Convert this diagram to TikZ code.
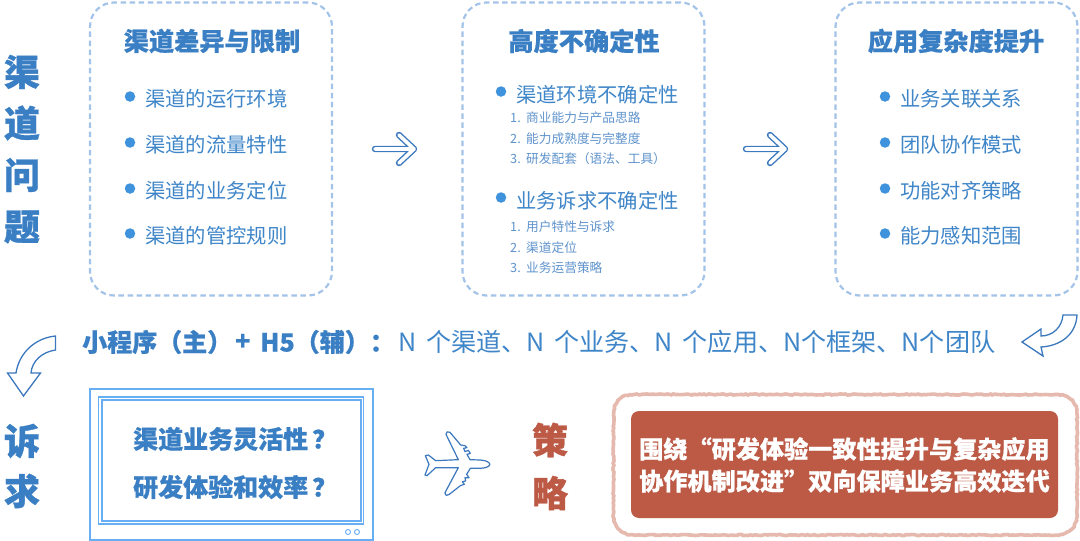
\documentclass[tikz,border=0pt]{standalone}
\usepackage{fontspec}
\setmainfont{Noto Sans CJK SC}
\newfontfamily\heavyf[BoldFeatures={FakeBold=1.0}]{Noto Sans CJK SC}
\newfontfamily\semif[BoldFeatures={FakeBold=0.6}]{Noto Sans CJK SC}
\usetikzlibrary{decorations.pathmorphing}
\definecolor{titleblue}{HTML}{3A7FC4}
\definecolor{itemblue}{HTML}{3F86C9}
\definecolor{subblue}{HTML}{5F93CC}
\definecolor{dotblue}{HTML}{3F93DC}
\definecolor{dashblue}{HTML}{A3C4E8}
\definecolor{framblue}{HTML}{68AEF2}
\definecolor{edgeblue}{HTML}{3B78BE}
\definecolor{redbox}{HTML}{BC5A46}
\definecolor{redrough}{HTML}{E6B9AE}
\newcommand{\nsp}{\kern 4.2pt\relax}
\tikzset{
  sidechar/.style={font=\fontsize{36}{36}\selectfont\heavyf\bfseries,text=titleblue,inner sep=0},
  boxtitle/.style={font=\fontsize{25.2}{25.2}\selectfont\semif\bfseries,text=titleblue,inner sep=0},
  item/.style={font=\fontsize{20.3}{20.3}\selectfont,text=itemblue,anchor=west,inner sep=0},
  subitem/.style={font=\fontsize{12.7}{12.7}\selectfont,text=subblue,anchor=west,inner sep=0},
  dot/.style={circle,fill=dotblue,inner sep=0,minimum size=10.5pt},
  dashbox/.style={draw=dashblue,line width=2.2pt,dash pattern=on 5.5pt off 3.6pt,rounded corners=24pt,minimum width=#1,minimum height=293pt,inner sep=0},
  framebox/.style={draw=framblue,line width=1.2pt,inner sep=0},
  openarrow/.style={line join=round,line cap=round},
  curvearrow/.style={draw=edgeblue,fill=white,line width=1.3pt,line join=miter},
  q/.style={font=\fontsize{25}{25}\selectfont\semif\bfseries,text=titleblue,inner sep=0,anchor=west},
  mixbold/.style={font=\fontsize{25}{25}\selectfont\semif\bfseries,text=titleblue,anchor=west,inner sep=0},
  strat/.style={font=\fontsize{24.15}{24.15}\selectfont\semif\bfseries,text=white,inner sep=0,anchor=west},
}
\newcommand{\openarrowshape}[2]{%
  \begin{scope}[shift={(#1,#2)}]
    \foreach \c/\w in {edgeblue/6.4pt,white/3.6pt}{
      \draw[openarrow,draw=\c,line width=\w] (0,0) -- (39,0) (24,-14) -- (39,0) -- (24,14);
    }
  \end{scope}}
\begin{document}
\begin{tikzpicture}[x=1pt,y=-1pt]
\useasboundingbox (0,0) rectangle (1080,541);
\fill[white] (0,0) rectangle (1080,541);

% side titles
\node[sidechar] (s1) at (22,72) {渠};
\node[sidechar] (s2) at (22,123) {道};
\node[sidechar] (s3) at (22,175) {问};
\node[sidechar] (s4) at (22,227) {题};
\node[sidechar] (s5) at (22,441) {诉};
\node[sidechar] (s6) at (22,491) {求};
\node[sidechar,text=redbox] (s7) at (550,440) {策};
\node[sidechar,text=redbox] (s8) at (550,493) {略};

% dashed boxes
\node[dashbox=242pt] (b1) at (211,149) {};
\node[dashbox=242pt] (b2) at (583.5,149) {};
\node[dashbox=242pt] (b3) at (956.5,149) {};
\node[boxtitle] (t1) at (212,41) {渠道差异与限制};
\node[boxtitle] (t2) at (584,41) {高度不确定性};
\node[boxtitle] (t3) at (956,41) {应用复杂度提升};

% box 1 list
\foreach \n/\y/\t in {1/99/渠道的运行环境,2/145/渠道的流量特性,3/191/渠道的业务定位,4/236/渠道的管控规则}{
  \node[dot] (d1\n) at (130,\y-2.5) {};
  \node[item] (i1\n) at (145,\y) {\t};
}
% box 3 list
\foreach \n/\y/\t in {1/99/业务关联关系,2/145/团队协作模式,3/191/功能对齐策略,4/236/能力感知范围}{
  \node[dot] (d3\n) at (885,\y-2.5) {};
  \node[item] (i3\n) at (900,\y) {\t};
}
% box 2 list
\node[dot] (d21) at (501,91.5) {};
\node[item] (i21) at (516,94.5) {渠道环境不确定性};
\node[dot] (d22) at (501,197.5) {};
\node[item] (i22) at (516,200.5) {业务诉求不确定性};
\foreach \n/\y/\m/\t in {1/118/1./商业能力与产品思路,2/139/2./能力成熟度与完整度,3/159/3./研发配套（语法、工具）,4/227/1./用户特性与诉求,5/248/2./渠道定位,6/268/3./业务运营策略}{
  \node[subitem] (m\n) at (510,\y) {\m};
  \node[subitem] (u\n) at (526,\y) {\t};
}

% straight open arrows
\openarrowshape{375}{149}
\openarrowshape{746}{149}

% middle line
\node[mixbold] (mixa) at (82,342) {小程序（主）};
\node[mixbold] (mixp) at (235,342) {+};
\node[mixbold] (mixh) at (260,342) {H5（辅）：};
\node[font=\fontsize{25.1}{25.1}\selectfont,text=itemblue,anchor=west,inner sep=0] (mixb) at (398,342) {N\nsp{} 个渠道、N\nsp{} 个业务、N\nsp{} 个应用、N个框架、N个团队};

% curved arrows
\draw[curvearrow] (55.5,336) .. controls (35,338) and (19,353) .. (16,373) -- (7.5,373) -- (23.5,396) -- (40.5,373) -- (31,373) .. controls (32,361) and (42,352) .. (55.5,350) -- cycle;
\draw[curvearrow] (1077,315) -- (1063,315) .. controls (1062,327) and (1053,336) .. (1041,336) -- (1041,329) -- (1022,342) -- (1043,356) -- (1041,347) .. controls (1060,346) and (1076,335) .. (1077,315) -- cycle;

% question frame
\node[framebox,minimum width=283pt,minimum height=151pt] (f1) at (231.5,464.5) {};
\node[framebox,minimum width=265.5pt,minimum height=127pt] (f2) at (231,460.5) {};
\node[framebox,minimum width=259pt,minimum height=121pt] (f3) at (231.5,460.5) {};
\node[draw=framblue,line width=.9pt,circle,inner sep=0,minimum size=5pt] (c1) at (348,532) {};
\node[draw=framblue,line width=.9pt,circle,inner sep=0,minimum size=5pt] (c2) at (357,532) {};
\node[q] (q1) at (133,439) {渠道业务灵活性\kern4pt？};
\node[q] (q2) at (133,487) {研发体验和效率\kern4pt？};

% plane
\begin{scope}[shift={(415,425)},scale=.3333]
\draw[draw=edgeblue,fill=white,line width=1.2pt,line join=round]
 (225,118) .. controls (222,110) and (212,106) .. (195,105) -- (165,104) -- (156,88) -- (166,85) -- (160,76) -- (150,80) -- (146,70) -- (156,68) -- (150,62) -- (137,60)
 -- (105,22) .. controls (100,18) and (92,20) .. (93,28) -- (130,104) -- (62,107) -- (40,90) -- (31,92) -- (42,118) -- (30,150) -- (36,152) -- (62,128) -- (130,128)
 -- (90,203) .. controls (90,212) and (98,214) .. (103,208) -- (136,182) -- (148,178) -- (142,170) -- (152,168) -- (150,158) -- (162,158) -- (155,148) -- (166,130) -- (195,130) .. controls (212,129) and (222,126) .. (225,118) -- cycle;
\end{scope}

% strategy box
\draw[draw=redrough,line width=3.6pt,decorate,decoration={random steps,segment length=2.2pt,amplitude=.55pt}]
  (634,394.5) -- (1056,394.5) .. controls (1069,394.5) and (1077,402) .. (1077,415)
  -- (1077,514) .. controls (1077,527) and (1069,535) .. (1056,535)
  -- (634,535) .. controls (621,535) and (613.5,527) .. (613.5,514)
  -- (613.5,415) .. controls (613.5,402) and (621,394.5) .. (634,394.5) -- cycle;
\node[fill=redbox,rounded corners=8pt,minimum width=427pt,minimum height=107pt,inner sep=0] (r2) at (844.5,464.5) {};
\node[strat] (l1) at (639,449) {围绕“研发体验一致性提升与复杂应用};
\node[strat] (l2) at (639,481) {协作机制改进”双向保障业务高效迭代};
\end{tikzpicture}
\end{document}
